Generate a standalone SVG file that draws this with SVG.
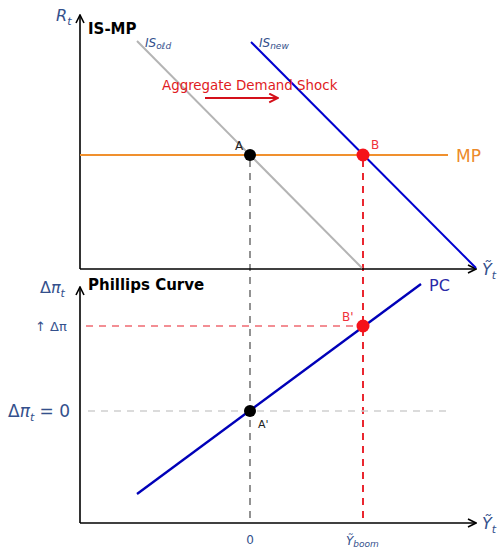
<svg xmlns="http://www.w3.org/2000/svg" width="503" height="548" viewBox="0 0 503 548">
<style>
text{font-family:"DejaVu Sans","Liberation Sans",sans-serif}
.ax{stroke:#000;stroke-width:1.6;fill:none}
.lbl{fill:#34508c}
.title{font-weight:bold;font-size:15px;fill:#000}
.dg{stroke:#777;stroke-width:1.6;stroke-dasharray:7,6;fill:none}
.dr{stroke:#e8101a;stroke-width:1.8;stroke-dasharray:7,6;fill:none}
</style>
<defs>
<marker id="ah" viewBox="0 0 10 10" refX="9" refY="5" markerWidth="10" markerHeight="10" markerUnits="userSpaceOnUse" orient="auto">
<path d="M1,1 L9,5 L1,9" fill="none" stroke="#000" stroke-width="1.6"/>
</marker>
<marker id="ahr" viewBox="0 0 10 10" refX="9" refY="5" markerWidth="11" markerHeight="11" markerUnits="userSpaceOnUse" orient="auto">
<path d="M1,1 L9,5 L1,9" fill="none" stroke="#d4101a" stroke-width="1.8"/>
</marker>
</defs>
<g id="connectors">
<line class="dg" x1="250" y1="160" x2="250" y2="522"/>
<line class="dr" x1="363" y1="160" x2="363" y2="522"/>
<line x1="88" y1="411" x2="450" y2="411" stroke="#d0d0d0" stroke-width="1.4" stroke-dasharray="7,6"/>
<line x1="86" y1="326" x2="363" y2="326" stroke="#f06a72" stroke-width="1.4" stroke-dasharray="7,6"/>
</g>
<g id="top-axes">
<line class="ax" x1="80" y1="269" x2="80" y2="15" marker-end="url(#ah)"/>
<line class="ax" x1="80" y1="269" x2="476" y2="269" marker-end="url(#ah)"/>
<text class="lbl" x="56" y="21" font-size="16" font-style="italic">R<tspan font-size="11" dy="4">t</tspan></text>
<text class="lbl" x="482" y="275" font-size="16" font-style="italic">Ỹ<tspan font-size="11" dy="4">t</tspan></text>
<text class="title" x="88" y="34" font-size="16">IS-MP</text>
</g>
<g id="is-old">
<line x1="137" y1="41" x2="362" y2="268" stroke="#b4b4b4" stroke-width="2"/>
<text class="lbl" x="145" y="47" font-size="12" font-style="italic">IS<tspan font-size="9" dy="2">oℓd</tspan></text>
</g>
<g id="is-new">
<line x1="251" y1="42" x2="476" y2="268" stroke="#0000d0" stroke-width="2"/>
<text class="lbl" x="259" y="47" font-size="12" font-style="italic">IS<tspan font-size="9" dy="2">new</tspan></text>
</g>
<g id="mp">
<line x1="80" y1="155" x2="448" y2="155" stroke="#f0902e" stroke-width="2.2"/>
<text x="456" y="162" font-size="17" fill="#ec8a2a">MP</text>
</g>
<g id="shock">
<text x="162" y="90" font-size="13.4" fill="#e01a22">Aggregate Demand Shock</text>
<line x1="205" y1="98" x2="278" y2="98" stroke="#d4101a" stroke-width="1.8" marker-end="url(#ahr)"/>
</g>
<g id="point-a">
<circle cx="250" cy="155" r="6" fill="#000"/>
<text x="235" y="150" font-size="12" fill="#222">A</text>
</g>
<g id="point-b">
<circle cx="363" cy="155" r="6.5" fill="#f5121a"/>
<text x="371" y="149" font-size="12" fill="#f0303a">B</text>
</g>
<g id="bottom-axes">
<line class="ax" x1="80" y1="523" x2="80" y2="287" marker-end="url(#ah)"/>
<line class="ax" x1="80" y1="523" x2="476" y2="523" marker-end="url(#ah)"/>
<text class="lbl" x="40" y="293" font-size="16">Δ<tspan font-style="italic">π</tspan><tspan font-size="11" dy="4" font-style="italic">t</tspan></text>
<text class="lbl" x="482" y="529" font-size="16" font-style="italic">Ỹ<tspan font-size="11" dy="4">t</tspan></text>
<text class="title" x="88" y="290">Phillips Curve</text>
<text class="lbl" x="35" y="331" font-size="13">↑ Δπ</text>
<text class="lbl" x="8" y="417" font-size="17">Δ<tspan font-style="italic">π</tspan><tspan font-size="11" dy="4" font-style="italic">t</tspan><tspan dy="-4"> = 0</tspan></text>
<text class="lbl" x="250" y="544" font-size="12" text-anchor="middle">0</text>
<text class="lbl" x="346" y="545" font-size="12" font-style="italic">Ỹ<tspan font-size="9" dy="2">boom</tspan></text>
</g>
<g id="pc">
<line x1="137" y1="494" x2="421" y2="284" stroke="#0000b8" stroke-width="2.4"/>
<text x="429" y="291" font-size="16" fill="#2a2aa8">PC</text>
</g>
<g id="point-a-prime">
<circle cx="250" cy="411" r="6" fill="#000"/>
<text x="258" y="428" font-size="11" fill="#222">A'</text>
</g>
<g id="point-b-prime">
<circle cx="363" cy="326" r="6.5" fill="#f5121a"/>
<text x="342" y="321" font-size="12" fill="#f0303a">B'</text>
</g>
</svg>
